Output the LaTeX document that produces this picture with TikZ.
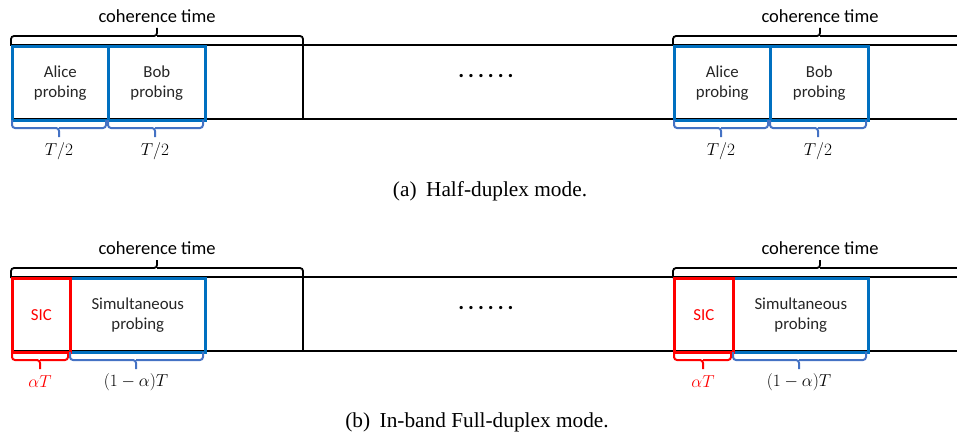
\documentclass[tikz,border=0pt]{standalone}
\usepackage{fontspec}
\setmainfont{Liberation Serif}
\newfontfamily\calfont{Carlito}
\definecolor{boxblue}{HTML}{0070C0}
\definecolor{braceblue}{HTML}{4472C4}
\definecolor{sicred}{HTML}{FF0000}
\begin{document}
\begin{tikzpicture}[x=1pt,y=-1pt,
  band/.style={line width=2.6pt},
  bluebox/.style={draw=boxblue,line width=2.6pt},
  redbox/.style={draw=sicred,line width=2.6pt},
  boxtext/.style={font=\calfont\fontsize{16.8}{20.5}\selectfont,align=center,text=black!85},
  blackbrace/.style={line width=1.8pt,rounded corners=3pt},
  bluebrace/.style={draw=braceblue,line width=2pt,rounded corners=3pt},
  redbrace/.style={draw=sicred,line width=2pt,rounded corners=3pt},
  cohtext/.style={font=\calfont\fontsize{18.5}{22}\selectfont},
  mathlbl/.style={font=\fontsize{19}{22}\selectfont},
  caption/.style={font=\fontsize{21.3}{25}\selectfont},
  dots/.style={font=\calfont\bfseries\fontsize{22}{24}\selectfont}
]
\useasboundingbox (0,0) rectangle (957,436);
\clip (0,0) rectangle (957,436);

% ===================== (a) Half-duplex =====================
\coordinate (aL1) at (11,45);
\coordinate (aR1) at (957,45);
\coordinate (aL2) at (11,119);
\coordinate (aR2) at (957,119);
\coordinate (aVt) at (303,45);
\coordinate (aVb) at (303,119);
\draw[band] (aL1) -- (aR1);
\draw[band] (aL2) -- (aR2);
\draw[band] (aVt) -- (aVb);

% coherence braces
\draw[blackbrace] (11,46) |- (157,36) -- (157,28);
\draw[blackbrace] (157,36) -| (303,46);
\node[cohtext] (ac1) at (157,16) {coherence time};
\draw[blackbrace] (673,46) |- (820,36) -- (820,28);
\draw[blackbrace] (820,36) -| (967,46);
\node[cohtext] (ac2) at (820,16) {coherence time};

% boxes left
\node[bluebox,minimum width=96pt,minimum height=74pt,inner sep=0pt,anchor=north west,boxtext] (alice1) at (11,45) {Alice\\probing};
\node[bluebox,minimum width=97pt,minimum height=74pt,inner sep=0pt,anchor=north west,boxtext] (bob1) at (107,45) {Bob\\probing};
% boxes right
\node[bluebox,minimum width=96pt,minimum height=74pt,inner sep=0pt,anchor=north west,boxtext] (alice2) at (673,45) {Alice\\probing};
\node[bluebox,minimum width=98pt,minimum height=74pt,inner sep=0pt,anchor=north west,boxtext] (bob2) at (769,45) {Bob\\probing};

% lower braces
\draw[bluebrace] (12,120) |- (59,128) -- (59,137);
\draw[bluebrace] (59,128) -| (106,120);
\draw[bluebrace] (108,120) |- (155,128) -- (155,137);
\draw[bluebrace] (155,128) -| (203,120);
\draw[bluebrace] (674,120) |- (721,128) -- (721,137);
\draw[bluebrace] (721,128) -| (768,120);
\draw[bluebrace] (770,120) |- (818,128) -- (818,137);
\draw[bluebrace] (818,128) -| (866,120);

\node[mathlbl] (t1) at (59,151) {$T/2$};
\node[mathlbl] (t2) at (155,151) {$T/2$};
\node[mathlbl] (t3) at (721,151) {$T/2$};
\node[mathlbl] (t4) at (818,151) {$T/2$};

\node[dots] (dotsa) at (486,76) {.\hspace{4.0pt}.\hspace{4.0pt}.\hspace{4.0pt}.\hspace{4.0pt}.\hspace{4.0pt}.};

\node[caption] (capa) at (490,191) {(a)\hspace{0.45em}Half-duplex mode.};

% ===================== (b) Full-duplex =====================
\coordinate (bL1) at (11,277);
\coordinate (bR1) at (957,277);
\coordinate (bL2) at (11,351);
\coordinate (bR2) at (957,351);
\coordinate (bVt) at (303,277);
\coordinate (bVb) at (303,351);
\draw[band] (bL1) -- (bR1);
\draw[band] (bL2) -- (bR2);
\draw[band] (bVt) -- (bVb);

\draw[blackbrace] (11,278) |- (157,268) -- (157,260);
\draw[blackbrace] (157,268) -| (303,278);
\node[cohtext] (bc1) at (157,248) {coherence time};
\draw[blackbrace] (673,278) |- (820,268) -- (820,260);
\draw[blackbrace] (820,268) -| (967,278);
\node[cohtext] (bc2) at (820,248) {coherence time};

\node[bluebox,minimum width=135pt,minimum height=74pt,inner sep=0pt,anchor=north west,boxtext] (sim1) at (69,277) {Simultaneous\\probing};
\node[redbox,minimum width=58pt,minimum height=74pt,inner sep=0pt,anchor=north west,boxtext,text=sicred] (sic1) at (11,277) {SIC};
\node[bluebox,minimum width=135pt,minimum height=74pt,inner sep=0pt,anchor=north west,boxtext] (sim2) at (732,277) {Simultaneous\\probing};
\node[redbox,minimum width=59pt,minimum height=74pt,inner sep=0pt,anchor=north west,boxtext,text=sicred] (sic2) at (673,277) {SIC};

\draw[redbrace] (12,352) |- (40,360) -- (40,369);
\draw[redbrace] (40,360) -| (68,352);
\draw[bluebrace] (70,352) |- (136,360) -- (136,369);
\draw[bluebrace] (136,360) -| (203,352);
\draw[redbrace] (674,352) |- (703,360) -- (703,369);
\draw[redbrace] (703,360) -| (731,352);
\draw[bluebrace] (733,352) |- (799,360) -- (799,369);
\draw[bluebrace] (799,360) -| (866,352);

\node[mathlbl,text=sicred] (a1) at (40,382) {$\alpha T$};
\node[mathlbl] (a2) at (136,382) {$(1-\alpha)T$};
\node[mathlbl,text=sicred] (a3) at (703,382) {$\alpha T$};
\node[mathlbl] (a4) at (799,382) {$(1-\alpha)T$};

\node[dots] (dotsb) at (486,308) {.\hspace{4.0pt}.\hspace{4.0pt}.\hspace{4.0pt}.\hspace{4.0pt}.\hspace{4.0pt}.};

\node[caption] (capb) at (477,422) {(b)\hspace{0.45em}In-band Full-duplex mode.};
\end{tikzpicture}
\end{document}
